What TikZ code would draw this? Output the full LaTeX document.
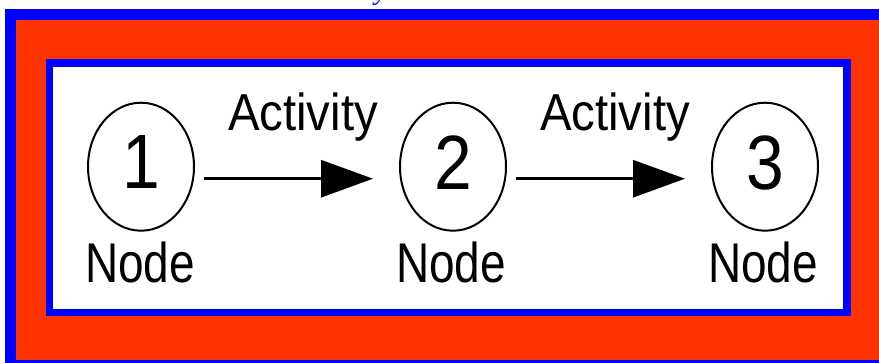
\documentclass[tikz,border=0pt]{standalone}
\usepackage{fontspec}
\setmainfont{Liberation Sans}
\newfontfamily\titlefont{Liberation Serif}
\usetikzlibrary{shapes.geometric,arrows.meta}
\definecolor{bandblue}{RGB}{0,0,255}
\definecolor{bandred}{RGB}{255,51,0}
\begin{document}
\begin{tikzpicture}[x=1pt,y=-1pt,
  eventnode/.style={ellipse, draw=black, line width=2pt, minimum width=106pt,
    minimum height=128pt, inner sep=0pt, font=\fontsize{77}{77}\selectfont, text depth=8.4pt},
  nodelabel/.style={anchor=base, inner sep=0pt, font=\fontsize{56}{56}\selectfont},
  actlabel/.style={anchor=base, inner sep=0pt, font=\fontsize{52}{52}\selectfont},
  titletext/.style={anchor=base, inner sep=0pt, text=bandblue, font=\titlefont\itshape\fontsize{28}{28}\selectfont},
  activityarrow/.style={line width=3pt, -{Triangle[length=52pt,width=37pt]}}
]
\useasboundingbox (0,0) rectangle (879,362);
\clip (0,0) rectangle (879,362);
\fill[white] (0,0) rectangle (879,362);
\fill[bandblue] (5,9) rectangle (900,380);
\fill[bandred] (15.5,20) rectangle (895,360);
\fill[bandblue] (45.5,59) rectangle (851,316);
\fill[white] (53.3,66.7) rectangle (843.3,309);
\node[titletext] (title) at (381,-1) {y};
\node[eventnode] (n1) at (141,166.7) {\scalebox{0.88}[1]{1}};
\node[eventnode] (n2) at (453,166.7) {\scalebox{0.88}[1]{2}};
\node[eventnode] (n3) at (765,166.7) {\scalebox{0.88}[1]{3}};
\node[nodelabel] (l1) at (140,282) {\scalebox{0.82}[1]{Node}};
\node[nodelabel] (l2) at (451,282) {\scalebox{0.82}[1]{Node}};
\node[nodelabel] (l3) at (763,282) {\scalebox{0.82}[1]{Node}};
\node[actlabel] (a1) at (303,130) {\scalebox{0.91}[1]{Activity}};
\node[actlabel] (a2) at (615,130) {\scalebox{0.91}[1]{Activity}};
\draw[activityarrow] ([xshift=9pt,yshift=-12pt]n1.east) -- ([xshift=-26pt,yshift=-12pt]n2.west);
\draw[activityarrow] ([xshift=9pt,yshift=-12pt]n2.east) -- ([xshift=-26pt,yshift=-12pt]n3.west);
\end{tikzpicture}
\end{document}
